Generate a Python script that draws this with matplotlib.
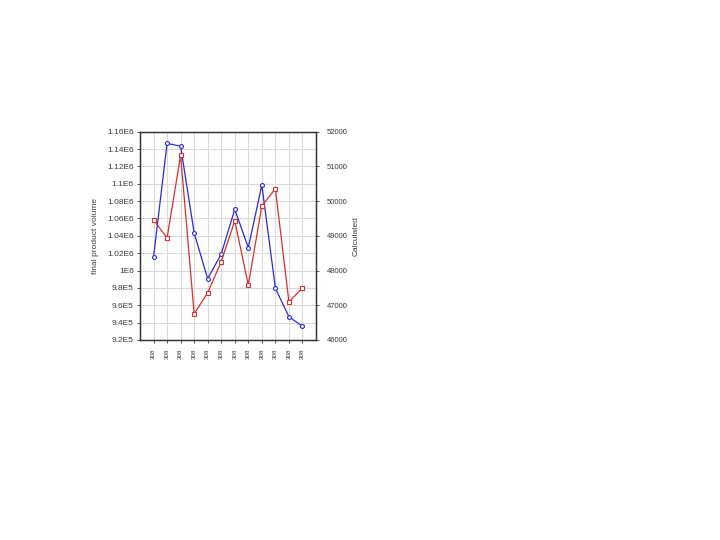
import matplotlib
matplotlib.use("Agg")
import matplotlib.pyplot as plt
import numpy as np

plt.rcParams['font.family'] = ['Liberation Sans', 'DejaVu Sans']

x_labels = ["308"] * 12
volume = [1.0156e6, 1.1466e6, 1.1432e6, 1.0433e6, 9.906e5, 1.0191e6,
          1.0706e6, 1.0263e6, 1.0986e6, 9.796e5, 9.468e5, 9.358e5]
calculated = [49466, 48939, 51320, 46750, 47363, 48256,
              49437, 47585, 49860, 50358, 47095, 47499]
left_ticks = [9.2e5, 9.4e5, 9.6e5, 9.8e5, 1e6, 1.02e6, 1.04e6, 1.06e6,
              1.08e6, 1.1e6, 1.12e6, 1.14e6, 1.16e6]
left_tick_labels = ["9.2E5", "9.4E5", "9.6E5", "9.8E5", "1E6", "1.02E6", "1.04E6",
                    "1.06E6", "1.08E6", "1.1E6", "1.12E6", "1.14E6", "1.16E6"]
right_ticks = [46000, 47000, 48000, 49000, 50000, 51000, 52000]

fig = plt.figure(figsize=(7.2, 5.4), dpi=100)
ax = fig.add_axes([140/720, 1-340/540, 176/720, 208.3/540])
xs = np.arange(1, len(volume) + 1)

txt = "#3a3a3a"
ax.plot(xs, volume, color="#2a2ad8", lw=0.9, marker="o", ms=2.8,
        mfc="white", mec="#2a2ad8", mew=0.8, zorder=3)
ax.set_xlim(0, len(volume) + 1)
ax.set_ylim(left_ticks[0], left_ticks[-1])
ax.set_yticks(left_ticks)
ax.set_yticklabels(left_tick_labels)
ax.set_xticks(xs)
ax.set_xticklabels(x_labels, rotation=90)
ax.grid(True, color="#dadada", lw=0.8)
ax.set_axisbelow(True)
ax.tick_params(axis="both", labelsize=6, colors=txt, length=2, width=0.6, pad=2.5)
ax.tick_params(axis="x", labelsize=4.5, pad=4)
ax.set_ylabel("final product volume", fontsize=6, color=txt, labelpad=6)
for s in ax.spines.values():
    s.set_color("#333333")
    s.set_linewidth(0.9)

ax2 = ax.twinx()
ax2.plot(xs, calculated, color="#d43030", lw=0.9, marker="s", ms=2.8,
         mfc="white", mec="#d43030", mew=0.8, zorder=3)
ax2.set_ylim(right_ticks[0], right_ticks[-1])
ax2.set_yticks(right_ticks)
ax2.tick_params(axis="y", labelsize=5.5, colors=txt, length=2, width=0.6, pad=6)
ax2.set_ylabel("Calculated", fontsize=6, color=txt, labelpad=3)
for s in ax2.spines.values():
    s.set_color("#333333")
    s.set_linewidth(0.9)

fig.savefig("out.png", dpi=100)
